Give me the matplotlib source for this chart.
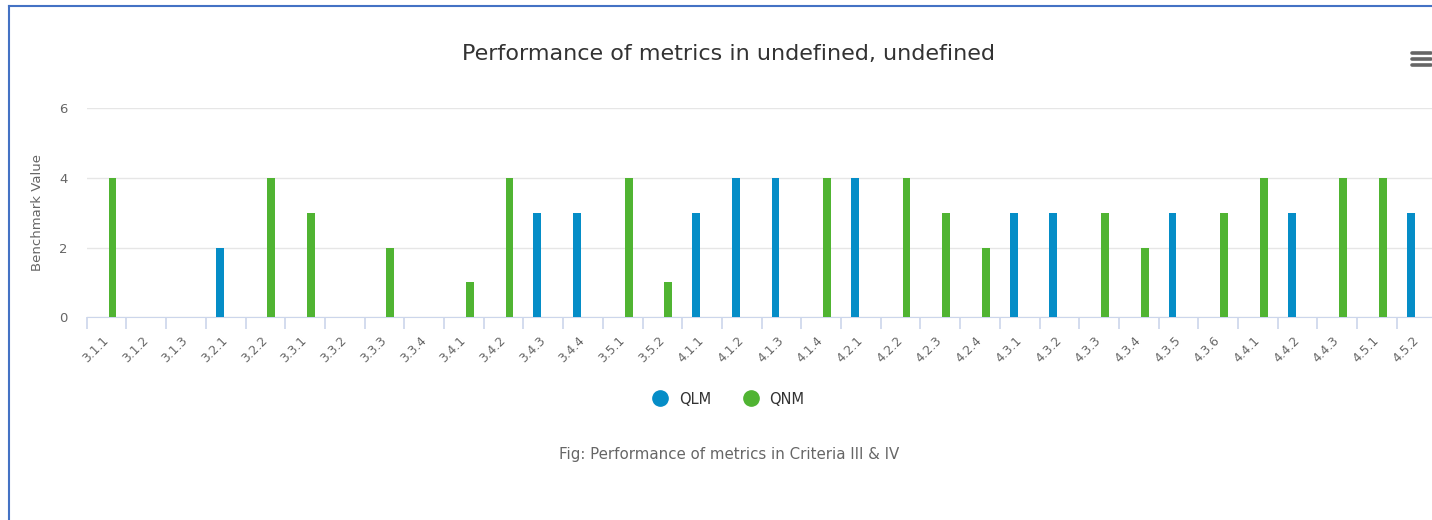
import numpy as np
import matplotlib
matplotlib.use("Agg")
import matplotlib.pyplot as plt
from matplotlib.lines import Line2D

categories = ["3.1.1", "3.1.2", "3.1.3", "3.2.1", "3.2.2", "3.3.1", "3.3.2", "3.3.3",
              "3.3.4", "3.4.1", "3.4.2", "3.4.3", "3.4.4", "3.5.1", "3.5.2", "4.1.1",
              "4.1.2", "4.1.3", "4.1.4", "4.2.1", "4.2.2", "4.2.3", "4.2.4", "4.3.1",
              "4.3.2", "4.3.3", "4.3.4", "4.3.5", "4.3.6", "4.4.1", "4.4.2", "4.4.3",
              "4.5.1", "4.5.2"]
qlm = [0, 0, 0, 2, 0, 0, 0, 0, 0, 0, 0, 3, 3, 0, 0, 3,
       4, 4, 0, 4, 0, 0, 0, 3, 3, 0, 0, 3, 0, 0, 3, 0, 0, 3]
qnm = [4, 0, 0, 0, 4, 3, 0, 2, 0, 1, 4, 0, 0, 4, 1, 0,
       0, 0, 4, 0, 4, 3, 2, 0, 0, 3, 2, 0, 3, 4, 0, 4, 4, 0]
y_ticks = [0, 2, 4, 6]

BLUE, GREEN = "#058DC7", "#50B432"
W, H = 1432, 520
plt.rcParams["font.family"] = ["DejaVu Sans"]

fig = plt.figure(figsize=(W / 100, H / 100), dpi=100)
left, right, top, bottom = 86.7, 86.7 + 34 * 39.7, 108.3, 317.3
ax = fig.add_axes([left / W, 1 - bottom / H, (right - left) / W, (bottom - top) / H])

x = np.arange(len(categories))
bw = 0.2
ax.bar(x - 0.15, qlm, bw, color=BLUE, zorder=3)
ax.bar(x + 0.15, qnm, bw, color=GREEN, zorder=3)

ax.set_xlim(-0.5, len(categories) - 0.5)
ax.set_ylim(0, 6)
ax.set_yticks(y_ticks)
ax.yaxis.grid(True, color="#e6e6e6", lw=1, zorder=0)
for s in ["top", "right", "left"]:
    ax.spines[s].set_visible(False)
ax.spines["bottom"].set_color("#ccd6eb")
ax.tick_params(axis="y", length=0, pad=14, labelsize=9.5, labelcolor="#666666")

ax.set_xticks(x)
ax.set_xticklabels(categories, rotation=45, ha="right", va="center",
                   rotation_mode="anchor", fontsize=8.8, color="#666666")
ax.tick_params(axis="x", which="major", length=0, pad=15)
ax.set_xticks(np.arange(len(categories) + 1) - 0.5, minor=True)
ax.tick_params(axis="x", which="minor", length=8.5, color="#ccd6eb", width=1.2)

ax.set_ylabel("Benchmark Value", fontsize=9.5, color="#666666")
ax.yaxis.set_label_coords((44 - left) / (right - left), 0.5)

fig.text(728 / W, 1 - 54 / H, "Performance of metrics in undefined, undefined",
         ha="center", va="center", fontsize=16, color="#333333")

handles = [Line2D([], [], marker="o", ls="", color=BLUE, markersize=11, label="QLM"),
           Line2D([], [], marker="o", ls="", color=GREEN, markersize=11, label="QNM")]
leg = fig.legend(handles=handles, loc="center", bbox_to_anchor=(725 / W, 1 - 399 / H),
                 ncol=2, frameon=False, handletextpad=0.3, columnspacing=1.7,
                 prop={"size": 10.5})
for t in leg.get_texts():
    t.set_color("#333333")

fig.text(729 / W, 1 - 454 / H, "Fig: Performance of metrics in Criteria III & IV",
         ha="center", va="center", fontsize=10.8, color="#666666")

# menu icon
for yy in (53, 59, 65):
    fig.add_artist(Line2D([1412 / W, 1431 / W], [1 - yy / H] * 2, color="#666666",
                          lw=2.6, solid_capstyle="round"))

# page frame
fig.add_artist(Line2D([8.5 / W, 8.5 / W], [0, 1 - 5.5 / H], color="#4472c4", lw=1.5))
fig.add_artist(Line2D([8.5 / W, 1], [1 - 5.5 / H] * 2, color="#4472c4", lw=1.5))

fig.savefig("out.png", dpi=100)
